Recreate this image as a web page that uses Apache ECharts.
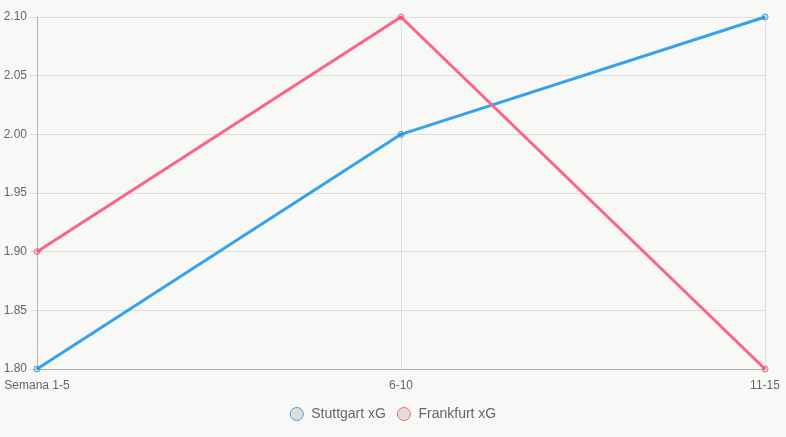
<!DOCTYPE html>
<html>
<head>
<meta charset="utf-8">
<script src="https://cdn.jsdelivr.net/npm/echarts@6/dist/echarts.min.js"></script>
<style>
  html, body { margin: 0; padding: 0; background: #f8f8f6; }
  #chart { width: 786px; height: 437px; }
</style>
</head>
<body>
<div id="chart"></div>
<script>
// xG por bloques de jornadas
const categories = ['Semana 1-5', '6-10', '11-15']
const stuttgartXG = [1.80, 2.00, 2.10]
const frankfurtXG = [1.90, 2.10, 1.80]

const font = 'Liberation Sans, Arial, sans-serif'
const gridColor = 'rgba(0,0,0,0.1)'

function lineSeries(name, data, color) {
  return {
    name,
    type: 'line',
    data,
    symbol: 'circle',
    symbolSize: 6,
    lineStyle: { color, width: 3 },
    itemStyle: { color: 'rgba(0,0,0,0.1)', borderColor: color, borderWidth: 1 },
    emphasis: { disabled: true },
  }
}

const chart = echarts.init(document.getElementById('chart'), null, { renderer: 'canvas' })
chart.setOption({
  backgroundColor: '#f8f8f6',
  animation: false,
  grid: { left: 37, right: 21, top: 17, bottom: 68 },
  legend: {
    top: 402,
    left: 'center',
    icon: 'circle',
    itemWidth: 13,
    itemHeight: 13,
    itemGap: 11,
    textStyle: { color: '#666', fontSize: 14, fontFamily: font, padding: [0, 0, 0, 3] },
    itemStyle: { color: 'rgba(0,0,0,0.1)', borderWidth: 1 },
    data: [
      { name: 'Stuttgart xG', itemStyle: { borderColor: '#36a2eb' } },
      { name: 'Frankfurt xG', itemStyle: { borderColor: '#ff6384' } },
    ],
  },
  xAxis: {
    type: 'category',
    data: categories,
    boundaryGap: false,
    axisLine: { lineStyle: { color: 'rgba(0,0,0,0.2)' } },
    axisTick: { show: false },
    axisLabel: { color: '#666', fontSize: 12, fontFamily: font, margin: 11 },
    splitLine: { show: true, lineStyle: { color: gridColor } },
  },
  yAxis: {
    type: 'value',
    min: 1.8,
    max: 2.1,
    interval: 0.05,
    axisLine: { show: true, lineStyle: { color: 'rgba(0,0,0,0.2)' } },
    axisTick: { show: true, length: 7, lineStyle: { color: gridColor } },
    axisLabel: {
      color: '#666', fontSize: 12, fontFamily: font, margin: 10,
      formatter: (v) => v.toFixed(2),
    },
    splitLine: { lineStyle: { color: gridColor } },
  },
  series: [
    lineSeries('Stuttgart xG', stuttgartXG, '#36a2eb'),
    lineSeries('Frankfurt xG', frankfurtXG, '#ff6384'),
  ],
})
</script>
</body>
</html>
